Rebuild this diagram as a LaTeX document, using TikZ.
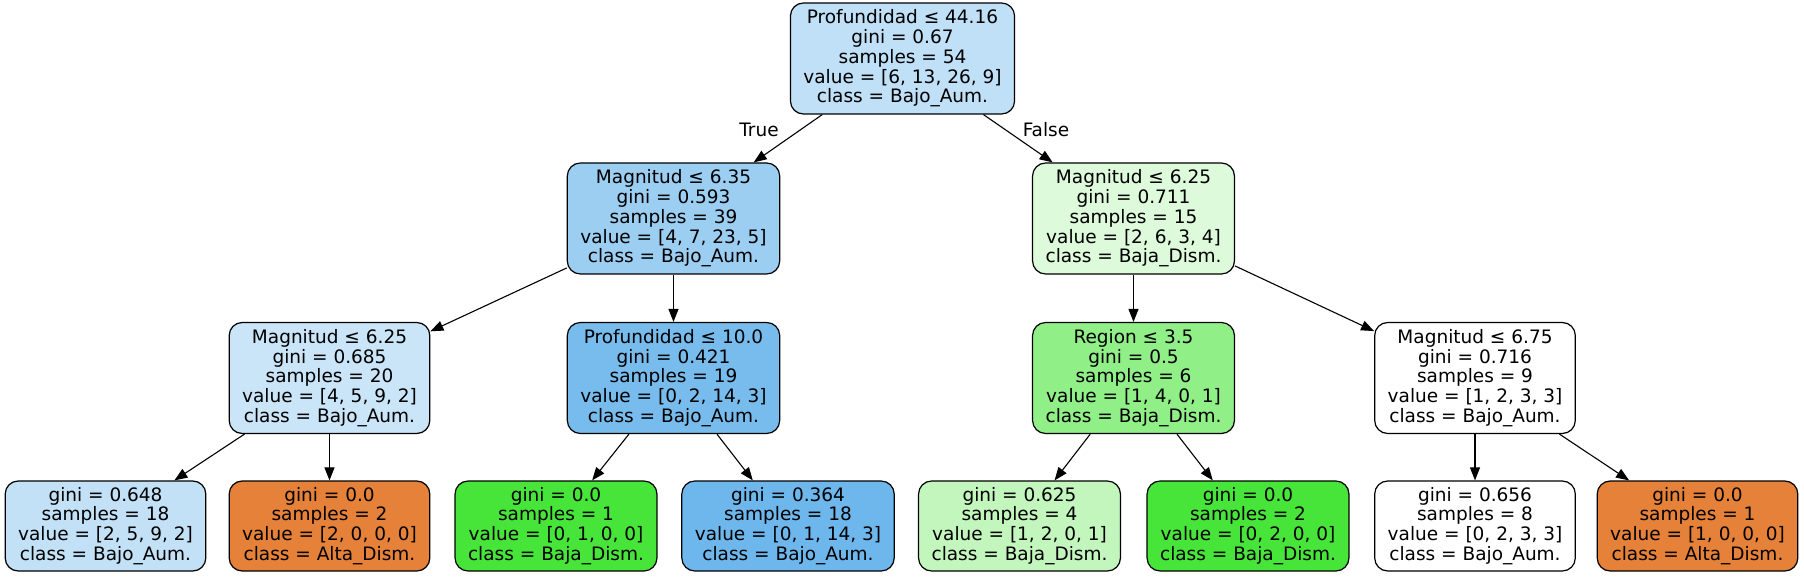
\documentclass[tikz,border=0pt]{standalone}
\usepackage{fontspec}
\setmainfont{DejaVu Sans}
\usetikzlibrary{arrows.meta}
\definecolor{bluefillA}{RGB}{192,224,247}
\definecolor{bluefillB}{RGB}{156,206,242}
\definecolor{bluefillC}{RGB}{202,229,248}
\definecolor{bluefillD}{RGB}{119,188,237}
\definecolor{bluefillE}{RGB}{194,225,247}
\definecolor{bluefillF}{RGB}{110,183,236}
\definecolor{greenfillA}{RGB}{221,250,219}
\definecolor{greenfillB}{RGB}{145,239,136}
\definecolor{greenfillC}{RGB}{194,246,189}
\definecolor{greenfull}{RGB}{71,229,57}
\definecolor{orangefull}{RGB}{229,129,57}
\begin{document}
\begin{tikzpicture}[x=1pt,y=-1pt,
    treenode/.style={draw=black, line width=1.2pt, rounded corners=13pt,
      align=center, inner xsep=13pt, minimum height=111pt,
      font=\fontsize{18.5}{19.8}\selectfont},
    leafnode/.style={treenode, minimum height=90pt},
    edge/.style={-{Triangle[length=13pt,width=10pt]}, line width=1.1pt},
    edgelabel/.style={inner sep=0pt, font=\fontsize{18.5}{20}\selectfont}]
  \useasboundingbox (0,0) rectangle (1804,577);
  % split nodes
  \node[treenode, fill=bluefillA] (root) at (902.5,58.5)
    {Profundidad ≤ 44.16\\gini = 0.67\\samples = 54\\value = [6, 13, 26, 9]\\class = Bajo\_Aum.};
  \node[treenode, fill=bluefillB] (magL) at (673.5,218.5)
    {Magnitud ≤ 6.35\\gini = 0.593\\samples = 39\\value = [4, 7, 23, 5]\\class = Bajo\_Aum.};
  \node[treenode, fill=greenfillA] (magR) at (1133.5,218.5)
    {Magnitud ≤ 6.25\\gini = 0.711\\samples = 15\\value = [2, 6, 3, 4]\\class = Baja\_Dism.};
  \node[treenode, fill=bluefillC] (magLL) at (329.5,378)
    {Magnitud ≤ 6.25\\gini = 0.685\\samples = 20\\value = [4, 5, 9, 2]\\class = Bajo\_Aum.};
  \node[treenode, fill=bluefillD] (profLR) at (673.5,378)
    {Profundidad ≤ 10.0\\gini = 0.421\\samples = 19\\value = [0, 2, 14, 3]\\class = Bajo\_Aum.};
  \node[treenode, fill=greenfillB] (regRL) at (1133.5,378)
    {Region ≤ 3.5\\gini = 0.5\\samples = 6\\value = [1, 4, 0, 1]\\class = Baja\_Dism.};
  \node[treenode, fill=white] (magRR) at (1475,378)
    {Magnitud ≤ 6.75\\gini = 0.716\\samples = 9\\value = [1, 2, 3, 3]\\class = Bajo\_Aum.};
  % leaves
  \node[leafnode, fill=bluefillE] (leafA) at (105.5,526)
    {gini = 0.648\\samples = 18\\value = [2, 5, 9, 2]\\class = Bajo\_Aum.};
  \node[leafnode, fill=orangefull] (leafB) at (329.5,526)
    {gini = 0.0\\samples = 2\\value = [2, 0, 0, 0]\\class = Alta\_Dism.};
  \node[leafnode, fill=greenfull] (leafC) at (556,526)
    {gini = 0.0\\samples = 1\\value = [0, 1, 0, 0]\\class = Baja\_Dism.};
  \node[leafnode, fill=bluefillF] (leafD) at (788,526)
    {gini = 0.364\\samples = 18\\value = [0, 1, 14, 3]\\class = Bajo\_Aum.};
  \node[leafnode, fill=greenfillC] (leafE) at (1019.5,526)
    {gini = 0.625\\samples = 4\\value = [1, 2, 0, 1]\\class = Baja\_Dism.};
  \node[leafnode, fill=greenfull] (leafF) at (1248,526)
    {gini = 0.0\\samples = 2\\value = [0, 2, 0, 0]\\class = Baja\_Dism.};
  \node[leafnode, fill=white] (leafG) at (1475,526)
    {gini = 0.656\\samples = 8\\value = [0, 2, 3, 3]\\class = Bajo\_Aum.};
  \node[leafnode, fill=orangefull] (leafH) at (1697.5,526)
    {gini = 0.0\\samples = 1\\value = [1, 0, 0, 0]\\class = Alta\_Dism.};
  % edges
  \foreach \a/\b in {root/magL, root/magR, magL/magLL, magL/profLR,
      magR/regRL, magR/magRR, magLL/leafA, magLL/leafB, profLR/leafC,
      profLR/leafD, regRL/leafE, regRL/leafF, magRR/leafG, magRR/leafH}
    \draw[edge] (\a) -- (\b);
  \node[edgelabel] (truelab) at (759,130) {True};
  \node[edgelabel] (falselab) at (1046,130) {False};
\end{tikzpicture}
\end{document}
